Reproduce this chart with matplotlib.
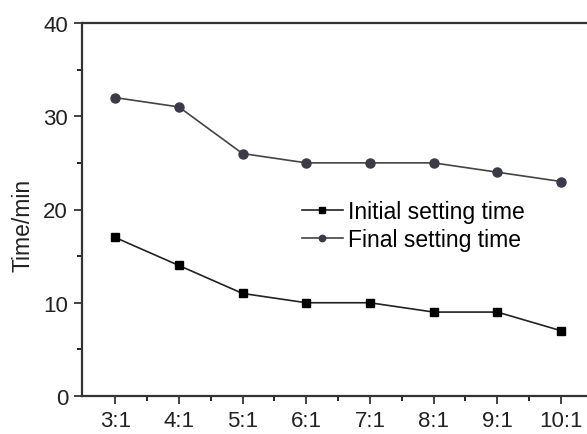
import numpy as np
import matplotlib.pyplot as plt

ratio_labels = ['3:1', '4:1', '5:1', '6:1', '7:1', '8:1', '9:1', '10:1']
ratio_x = [3, 4, 5, 6, 7, 8, 9, 10]
initial_time = [17, 14, 11, 10, 10, 9, 9, 7]
final_time = [32, 31, 26, 25, 25, 25, 24, 23]

plt.rcParams['font.family'] = ['Liberation Sans', 'DejaVu Sans']

fig = plt.figure(figsize=(5.87, 4.35), dpi=100)
ax = fig.add_axes([82/587, 1 - 397/435, 1.01 - 82/587, (397 - 24)/435])

ax.plot(ratio_x, initial_time, color='#222222', lw=1.2, marker='s', ms=6,
        mfc='black', mec='black', label='Initial setting time')
ax.plot(ratio_x, final_time, color='#444444', lw=1.2, marker='o', ms=6.5,
        mfc='#3a3a48', mec='#3a3a48', label='Final setting time')

ax.set_xlim(2.48, 10.5)
ax.set_ylim(0, 40)
ax.set_xticks(ratio_x)
ax.set_xticklabels(ratio_labels)
ax.set_xticks(np.arange(3.5, 10, 1), minor=True)
ax.set_yticks([0, 10, 20, 30, 40])
ax.set_yticks([5, 15, 25, 35], minor=True)
ax.tick_params(axis='both', which='major', direction='out', length=6, width=1.2,
               labelsize=16, colors='#222222', pad=4)
ax.tick_params(axis='both', which='minor', direction='out', length=3.5, width=1.2)
for s in ax.spines.values():
    s.set_linewidth(1.6)
    s.set_color('#333333')

# y label sits a bit below the axes centre in the original
fig.text(23/587, 1 - 225/435, 'Time/min', rotation=90, ha='center', va='center',
         fontsize=16.5, color='#222222')

leg = ax.legend(loc='upper left', bbox_to_anchor=(0.39, 0.58), frameon=False,
                fontsize=16.5, handlelength=1.8, handletextpad=0.2,
                labelspacing=0.22, markerscale=0.7)

fig.savefig('out.png', dpi=100)
